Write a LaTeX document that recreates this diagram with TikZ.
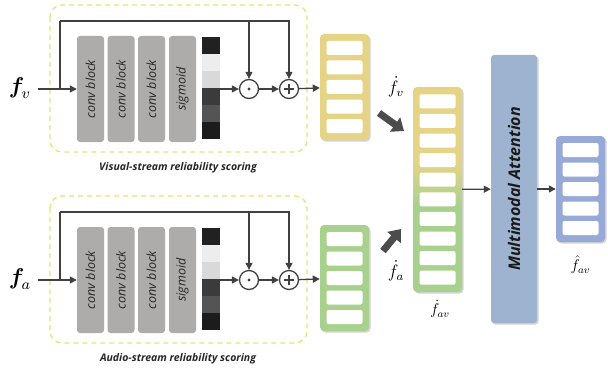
\documentclass[tikz,border=0pt]{standalone}
\usepackage{fontspec}
\usepackage{amsmath}
\usepackage{tikz}
\setmainfont{Open Sans}
\usetikzlibrary{positioning, arrows.meta, shadows}
\definecolor{avyellow}{RGB}{230,212,134}
\definecolor{avgreen}{RGB}{169,209,142}
\definecolor{attblue}{RGB}{157,179,207}
\definecolor{outblue}{RGB}{151,169,214}
\definecolor{blockgray}{RGB}{174,171,171}
\definecolor{linegray}{RGB}{64,64,64}
\definecolor{dashyellow}{RGB}{232,226,120}
\pgfdeclareverticalshading{avshading}{100bp}{color(0bp)=(avgreen); color(46bp)=(avgreen); color(57bp)=(avyellow); color(100bp)=(avyellow)}

\tikzset{
    conn/.style={line width=1.3pt, linegray, -{Triangle[width=7pt,length=7pt]}},
    convbox/.style={fill=blockgray, rounded corners=3pt, minimum width=106pt, minimum height=27pt,
        inner sep=0pt, rotate=90, font=\itshape\fontsize{12.5}{14}\selectfont, text=black!85},
    opnode/.style={circle, draw=linegray, fill=white, line width=1.3pt, minimum size=19pt, inner sep=0pt},
    featcol/.style={rounded corners=4pt, minimum width=49pt, inner sep=0pt,
        drop shadow={opacity=0.35, shadow xshift=1.5pt, shadow yshift=-1.5pt}},
    cellbox/.style={fill=white, rounded corners=2pt, minimum width=36pt, minimum height=14pt, inner sep=0pt},
    streambox/.style={draw=dashyellow, line width=1.3pt, dash pattern=on 5pt off 4pt, rounded corners=12pt},
    caption/.style={font=\bfseries\itshape\fontsize{10.5}{12}\selectfont, text=black!85},
    fatarrow/.style={line width=7pt, black!70, -{Triangle[width=17pt,length=11pt]}},
    mathlabel/.style={inner sep=1pt, font=\large}
}

\begin{document}
\begin{tikzpicture}[x=1pt, y=-1pt]
    \useasboundingbox (0,0) rectangle (608,369);

    % Two reliability scoring streams
    \foreach \s/\yc/\colr/\txt in {v/89/avyellow/Visual, a/280/avgreen/Audio} {
        \draw[streambox] (50,\yc-84) rectangle (307,\yc+63);
        \node[caption] (cap\s) at (178,\yc+79) {\txt-stream reliability scoring};

        \node[mathlabel, scale=1.9] (f\s) at (20,\yc-1) {$\boldsymbol{f}_{\!\s}$};
        \coordinate (branch\s) at (60,\yc);
        \coordinate (top\s) at (60,\yc-68);

        % conv blocks + sigmoid
        \node[convbox] (conv1\s) at (90.5,\yc) {conv block};
        \node[convbox] (conv2\s) at (121,\yc) {conv block};
        \node[convbox] (conv3\s) at (151.5,\yc) {conv block};
        \node[convbox] (sig\s) at (182.5,\yc) {sigmoid};

        % reliability scores
        \node[minimum width=18pt, minimum height=102pt, inner sep=0pt] (bar\s) at (211,\yc-1) {};
        \foreach \k/\g in {0/87, 1/7, 2/15, 3/77, 4/67, 5/89}
            \fill[black!\g] (202,\yc-52+\k*17) rectangle (220,\yc-35+\k*17);

        \node[opnode] (odot\s) at (249,\yc) {};
        \fill[linegray] (odot\s.center) circle (1.7pt);
        \node[opnode] (oplus\s) at (289,\yc) {};
        \draw[linegray, line width=1.3pt] ([xshift=-5pt]oplus\s.center) -- ([xshift=5pt]oplus\s.center);
        \draw[linegray, line width=1.3pt] ([yshift=-5pt]oplus\s.center) -- ([yshift=5pt]oplus\s.center);

        % feature column
        \node[featcol, fill=\colr, minimum height=106pt] (col\s) at (344.5,\yc-2) {};
        \foreach \k in {0,...,4}
            \node[cellbox] (cell\s\k) at (344.5,\yc-41+\k*19.5) {};

        % connectors
        \coordinate (in\s) at (38,\yc);
        \draw[conn] (in\s) -- (conv1\s);
        \draw[line width=1.3pt, linegray] (branch\s) -- (top\s);
        \draw[conn] (top\s) -| (odot\s);
        \draw[conn] (top\s) -| (oplus\s);
        \draw[conn] (bar\s.east |- odot\s) -- (odot\s);
        \draw[conn] (odot\s) -- (oplus\s);
        \draw[conn] (oplus\s) -- (col\s);
    }

    % Concatenated features
    \node[featcol, shading=avshading, minimum height=205pt] (colav) at (437.5,189.5) {};
    \foreach \k in {0,...,9}
        \node[cellbox] (cellav\k) at (437.5,101.3+\k*19.6) {};

    \node[mathlabel, scale=1.5] (labv) at (396,87) {$\dot{f}_{v}$};
    \node[mathlabel, scale=1.5] (laba) at (396,271) {$\dot{f}_{a}$};
    \node[mathlabel, scale=1.3] (labav) at (440,309) {$\dot{f}_{av}$};

    \coordinate (tailv) at (379,113);
    \coordinate (tipv) at (404,131);
    \coordinate (taila) at (383,251);
    \coordinate (tipa) at (401,229);
    \draw[fatarrow] (tailv) -- (tipv);
    \draw[fatarrow] (taila) -- (tipa);

    % Attention
    \node[fill=attblue, rounded corners=3pt, minimum width=46pt, minimum height=268pt,
        drop shadow={opacity=0.35, shadow xshift=1.5pt, shadow yshift=-1.5pt}] (att) at (514,189) {};
    \node[rotate=90, font=\bfseries\itshape\fontsize{16}{19}\selectfont, text=black!90] (atttext) at (att.center) {Multimodal Attention};

    % Output features
    \node[featcol, fill=outblue, minimum height=106pt] (colout) at (580.5,189) {};
    \foreach \k in {0,...,4}
        \node[cellbox] (cellout\k) at (580.5,150+\k*19.5) {};
    \node[mathlabel, scale=1.3, below=12pt of colout] (labout) {$\hat{f}_{av}$};

    \draw[conn] (colav) -- (att);
    \draw[conn] (att) -- (colout);
\end{tikzpicture}
\end{document}
